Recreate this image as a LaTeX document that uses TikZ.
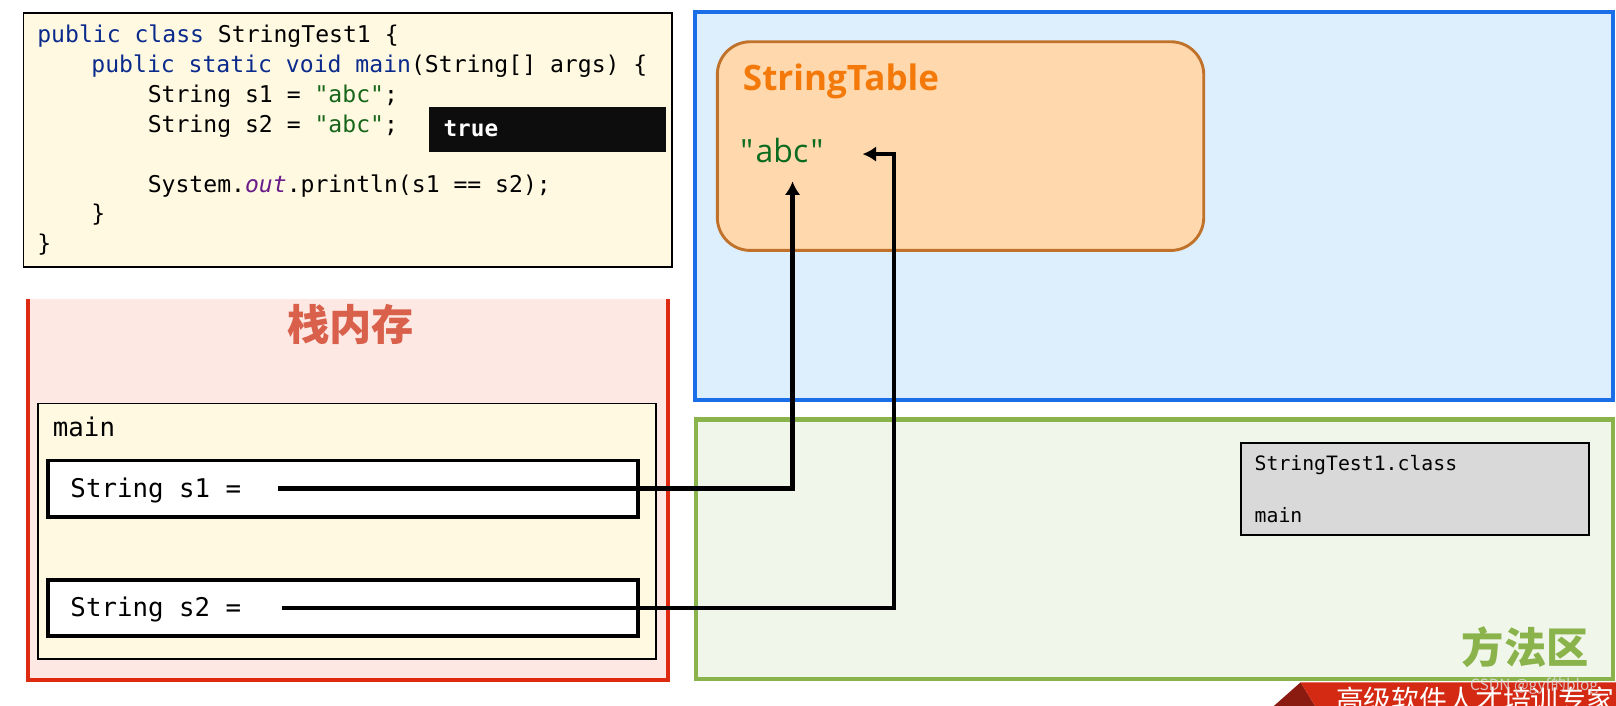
\documentclass[tikz,border=0pt]{standalone}
\usepackage{fontspec}
\setmonofont{DejaVu Sans Mono}
\setsansfont{Open Sans}
\newfontfamily\cjk{Noto Sans CJK SC}
\usetikzlibrary{arrows.meta}

\definecolor{codebg}{HTML}{FFF9E1}
\definecolor{kwblue}{HTML}{0A2A8C}
\definecolor{strgreen}{HTML}{17661A}
\definecolor{fieldpurple}{HTML}{6A1B8A}
\definecolor{stackbg}{HTML}{FDE8E3}
\definecolor{stackred}{HTML}{DF2A12}
\definecolor{stacktitle}{HTML}{D9604A}
\definecolor{heapblue}{HTML}{1A6FE8}
\definecolor{heapbg}{HTML}{DDEEFD}
\definecolor{tablebg}{HTML}{FFD8AD}
\definecolor{tableborder}{HTML}{C0722A}
\definecolor{tabletitle}{HTML}{F37A0A}
\definecolor{abcgreen}{HTML}{0B6B1F}
\definecolor{methodgreen}{HTML}{8AB34C}
\definecolor{methodbg}{HTML}{F1F6EA}
\definecolor{classgray}{HTML}{D9D9D9}
\definecolor{bannerred}{HTML}{D42A14}
\definecolor{bannerdark}{HTML}{8B1A10}

\newcommand\jkw[1]{\textcolor{kwblue}{#1}}
\newcommand\jstr[1]{\textcolor{strgreen}{#1}}
\newcommand\jfield[1]{\textcolor{fieldpurple}{\itshape #1}}

\tikzset{
  codeline/.style={anchor=base west,inner sep=0pt,font=\ttfamily\fontsize{11.2}{14}\selectfont},
  stackline/.style={anchor=base west,inner sep=0pt,font=\ttfamily\fontsize{12.5}{15}\selectfont},
  classline/.style={anchor=base west,inner sep=0pt,font=\ttfamily\fontsize{9.6}{11}\selectfont},
  areatitle/.style={inner sep=0pt,font=\cjk\bfseries\fontsize{20.5}{24}\selectfont},
  varbox/.style={draw=black,line width=1.7pt,fill=white},
  refline/.style={line width=2pt,-{Latex[length=6.5pt,width=7.5pt]}},
}

\begin{document}
\begin{tikzpicture}[x=0.5pt,y=-0.5pt]
        \useasboundingbox (0,0) rectangle (1568,685);
        \fill[white] (0,0) rectangle (1568,685);

        % code
        \draw[fill=codebg,line width=0.6pt] (22.5,12.5) rectangle (652,259);
        \node[codeline] (line1) at (35.8,41.4) {\jkw{public class} StringTest1 \{};
        \node[codeline] (line2) at (88.3,70.4) {\jkw{public static void main}(String[] args) \{};
        \node[codeline] (line3) at (143,99.4) {String s1 = \jstr{"abc"};};
        \node[codeline] (line4) at (143,128.4) {String s2 = \jstr{"abc"};};
        \node[codeline] (line5) at (143,186.4) {System.\jfield{out}.println(s1 == s2);};
        \node[codeline] (line6) at (88.3,215.4) {\}};
        \node[codeline] (line7) at (35.8,244.4) {\}};
        \fill[black!95] (416,103.5) rectangle (646,147);
        \node[codeline,text=white,font=\ttfamily\bfseries\fontsize{11}{13}\selectfont] (result) at (430,132.6) {true};

        % stack
        \fill[stackbg] (27,290) rectangle (648,660);
        \draw[stackred,line width=1.9pt] (27,290) -- (27,660) -- (648,660) -- (648,290);
        \node[areatitle,text=stacktitle] (stacktitle) at (340,315) {栈内存};
        \draw[fill=codebg,line width=0.85pt] (37,391.5) rectangle (636.5,639.5);
        \node[stackline] (frame) at (51,423.7) {main};
        \draw[varbox] (46.5,447) rectangle (619,501.5);
        \draw[varbox] (46.5,563) rectangle (619,617);
        \node[stackline] (s1) at (68,483) {String s1 =};
        \node[stackline] (s2) at (68,598) {String s2 =};

        % heap
        \draw[draw=heapblue,fill=heapbg,line width=2pt] (674,11.5) rectangle (1565,388);
        \draw[draw=tableborder,fill=tablebg,line width=1.4pt,rounded corners=16pt] (696,40.5) rectangle (1168,243);
        \node[anchor=base west,inner sep=0pt,text=tabletitle,font=\sffamily\bfseries\fontsize{17}{20}\selectfont] (table) at (720.5,88) {StringTable};
        \node[anchor=base west,inner sep=0pt,text=abcgreen,font=\sffamily\fontsize{15.5}{18}\selectfont] (abc) at (718,158) {\textquotedbl\kern1.2pt abc\kern1.2pt\textquotedbl};

        % method area
        \draw[draw=methodgreen,fill=methodbg,line width=2pt] (675,407) rectangle (1565,659);
        \draw[fill=classgray,line width=1pt] (1204,430) rectangle (1542,519);
        \node[classline] (classname) at (1217,456.7) {StringTest1.class};
        \node[classline] (classmain) at (1217,507) {main};
        \node[areatitle,text=methodgreen] (methodtitle) at (1480,628) {方法区};

        % references
        \coordinate (s1ref) at (270,474);
        \coordinate (s1tip) at (769,176);
        \coordinate (s2ref) at (274,590);
        \coordinate (s2turn) at (867.5,149.5);
        \coordinate (s2tip) at (837,149.5);
        \draw[refline] (s1ref) -| (s1tip);
        \draw[refline] (s2ref) -| (s2turn) -- (s2tip);

        % banner
        \begin{scope}
        \clip (0,0) rectangle (1568,685);
        \fill[bannerdark] (1236,685) -- (1262,662) -- (1276,685) -- cycle;
        \fill[bannerred] (1262,662) -- (1568,662) -- (1568,685) -- (1276,685) -- cycle;
        \node[anchor=west,inner sep=0pt,text=white,font=\cjk\fontsize{13.5}{16}\selectfont] (banner) at (1296,679) {高级软件人才培训专家};
        \node[anchor=west,inner sep=0pt,text=white!75!gray,opacity=0.85,font=\cjk\fontsize{7.5}{9}\selectfont] (mark) at (1426,666) {CSDN @gyf的blog};
        \end{scope}
\end{tikzpicture}
\end{document}
